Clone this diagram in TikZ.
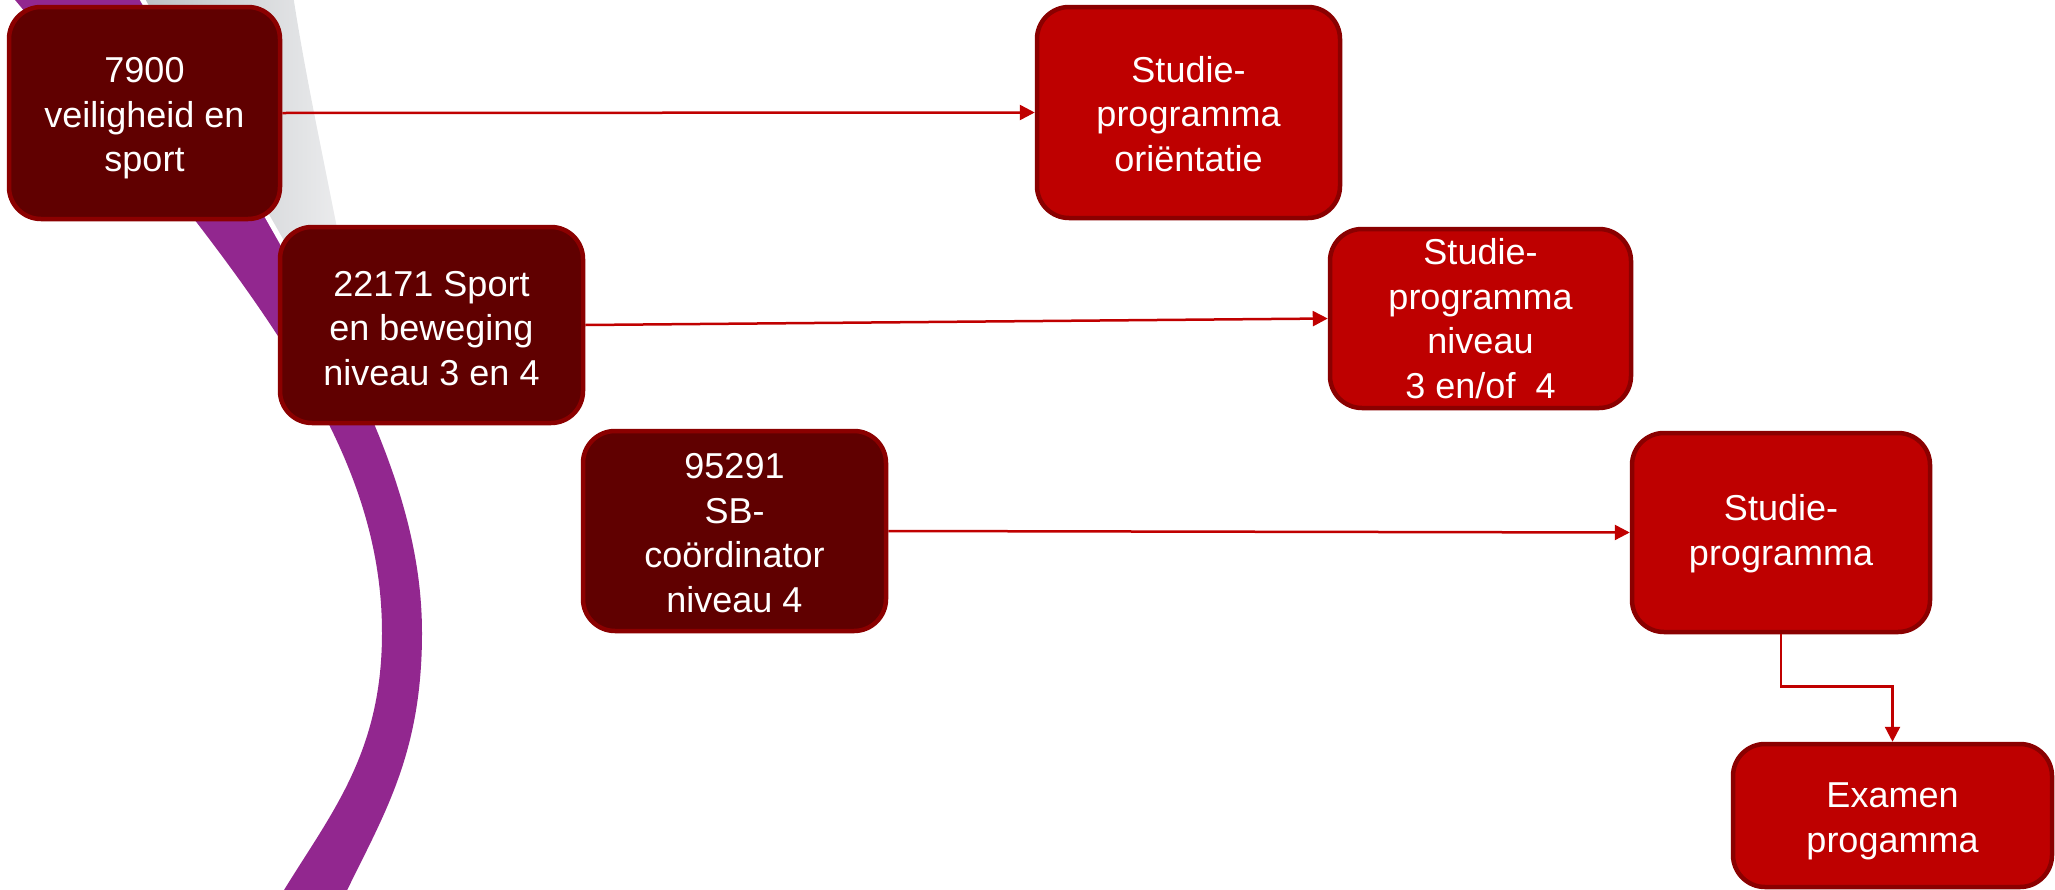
\documentclass[tikz,border=0pt]{standalone}
\usepackage{fontspec}
\setmainfont{Liberation Sans}
\usetikzlibrary{arrows.meta}

\definecolor{boxdark}{HTML}{600000}
\definecolor{boxdarkline}{HTML}{8B0000}
\definecolor{boxred}{HTML}{BE0000}
\definecolor{boxredline}{HTML}{8A0000}
\definecolor{arrowred}{HTML}{C00000}
\definecolor{swooshpurple}{HTML}{92278F}
\definecolor{swooshgrayA}{HTML}{A9AEB3}
\definecolor{swooshgrayB}{HTML}{F3F3F4}

\tikzset{
  box/.style={rectangle, rounded corners=32pt, line width=4.5pt,
    inner sep=0pt, align=center, text=white,
    font=\fontsize{36}{44.5}\selectfont},
  darkbox/.style={box, fill=boxdark, draw=boxdarkline},
  redbox/.style={box, fill=boxred, draw=boxredline},
  link/.style={draw=arrowred, line width=2.5pt,
    -{Triangle[length=15pt,width=15pt]}},
}

\begin{document}
\begin{tikzpicture}[x=1pt,y=-1pt]
\useasboundingbox (0,0) rectangle (2055,889);

% grey band beside the swoosh, fading outwards
\shade[left color=swooshgrayA, right color=swooshgrayB]
  (60,-12) .. controls (220,220) and (320,360) .. (372,420)
  .. controls (345,250) and (310,110) .. (292,-12) -- cycle;

% purple swoosh
\fill[swooshpurple]
  (136,-12) .. controls (300,280) and (422,450) .. (422,633)
  .. controls (422,760) and (380,820) .. (340,905)
  -- (275,905)
  .. controls (325,820) and (382,760) .. (382,633)
  .. controls (382,440) and (250,280) .. (5,-12) -- cycle;

% thin white seam between the purple and the grey (hidden end under a box)
\begin{scope}
  \clip (0,-20) rectangle (600,415);
  \draw[white, line width=5pt]
    (136,-12) .. controls (300,280) and (422,450) .. (422,633);
\end{scope}

% source boxes
\node[darkbox, minimum width=271pt, minimum height=212pt] (a) at (144.5,113)
  {\rule{0pt}{36pt}7900\\veiligheid en\\sport};
\node[darkbox, minimum width=303pt, minimum height=196pt] (b) at (431.5,325)
  {\rule{0pt}{32pt}22171 Sport\\en beweging\\niveau 3 en 4};
\node[darkbox, minimum width=303pt, minimum height=200pt] (c) at (734.5,531)
  {\rule{0pt}{29pt}95291\\SB-\\coördinator\\niveau 4};

% target boxes
\node[redbox, minimum width=303pt, minimum height=211pt] (d) at (1188.5,112.5)
  {\rule{0pt}{29pt}Studie-\\programma\\oriëntatie};
\node[redbox, minimum width=301pt, minimum height=179pt] (e) at (1480.5,318.5)
  {Studie-\\programma\\niveau\\3 en/of~~4};
\node[redbox, minimum width=298pt, minimum height=199pt] (f) at (1781,532.5)
  {\rule{0pt}{28pt}Studie-\\programma};
\node[redbox, minimum width=319pt, minimum height=143pt] (g) at (1892.5,815.5)
  {\rule{0pt}{36pt}Examen\\progamma};

% connectors
\draw[link] (a.east) -- (d.west);
\draw[link] (b.east) -- (e.west);
\draw[link] (c.east) -- (f.west);
\draw[link] (f.south) -- ++(0,52) -| (g.north);
\end{tikzpicture}
\end{document}
